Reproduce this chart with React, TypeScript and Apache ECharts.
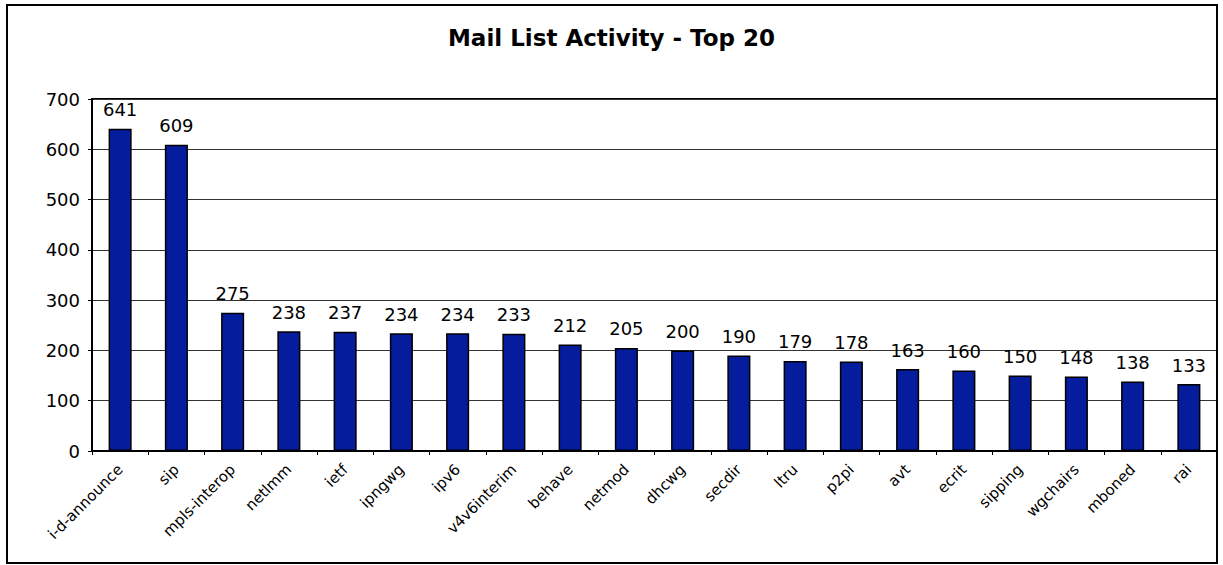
import React, { useEffect, useRef } from "react";
import * as echarts from "echarts";

const categories = [
  "i-d-announce", "sip", "mpls-interop", "netlmm", "ietf", "ipngwg", "ipv6",
  "v4v6interim", "behave", "netmod", "dhcwg", "secdir", "ltru", "p2pi", "avt",
  "ecrit", "sipping", "wgchairs", "mboned", "rai",
];
const values = [641, 609, 275, 238, 237, 234, 234, 233, 212, 205, 200, 190, 179, 178, 163, 160, 150, 148, 138, 133];
const titleText = "Mail List Activity - Top 20";

const FONT = "DejaVu Sans";

export default function App() {
  const ref = useRef<HTMLDivElement>(null);
  useEffect(() => {
    if (!ref.current) return;
    const chart = echarts.init(ref.current, null, { renderer: "svg" });
    chart.setOption({
      animation: false,
      backgroundColor: "#ffffff",
      title: {
        text: titleText,
        left: "center",
        top: 21,
        textStyle: { fontFamily: FONT, fontSize: 23, fontWeight: "bold", color: "#000" },
      },
      graphic: [
        {
          type: "rect",
          shape: { x: 7, y: 5, width: 1210, height: 558 },
          style: { fill: "none", stroke: "#000", lineWidth: 2 },
          z: 100,
        },
      ],
      grid: { left: 92, top: 99, right: 6, bottom: 114, show: true, borderColor: "#000", borderWidth: 2, backgroundColor: "#fff" },
      xAxis: {
        type: "category",
        data: categories,
        boundaryGap: true,
        axisLine: { lineStyle: { color: "#000", width: 2 } },
        axisTick: { show: true, alignWithLabel: false, length: 4, lineStyle: { color: "#000" } },
        axisLabel: { rotate: 45, interval: 0, margin: 16, fontFamily: FONT, fontSize: 15, color: "#000" },
      },
      yAxis: {
        type: "value",
        min: 0,
        max: 700,
        interval: 100,
        axisLine: { show: true, lineStyle: { color: "#000", width: 2 } },
        axisTick: { show: true, length: 4, lineStyle: { color: "#000" } },
        axisLabel: { margin: 12, fontFamily: FONT, fontSize: 18, color: "#000" },
        splitLine: { show: true, lineStyle: { color: "#333", width: 1 } },
      },
      series: [
        {
          type: "bar",
          data: values,
          barWidth: "41%",
          itemStyle: { color: "#051c9c", borderColor: "#000", borderWidth: 1.5 },
          label: { show: true, position: "top", distance: 10, fontFamily: FONT, fontSize: 18, color: "#000" },
        },
      ],
    });
    return () => chart.dispose();
  }, []);
  return <div ref={ref} style={{ position: "fixed", left: 0, top: 0, width: 1223, height: 565 }} />;
}
